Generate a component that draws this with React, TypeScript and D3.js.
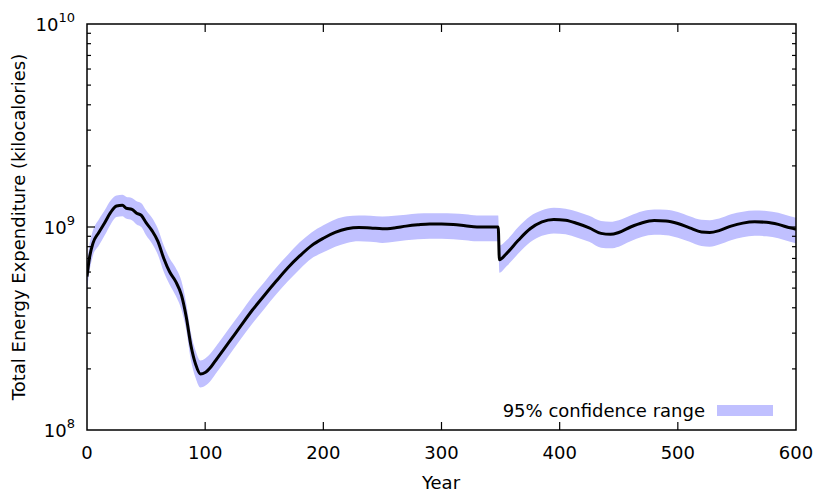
import React from 'react';
import * as d3 from 'd3';

/* data, values in 1e8 kcal */
const years = [0, 2, 5, 10, 15, 20, 25, 30, 33, 38, 42, 46, 50, 55, 60, 65, 70, 75, 80, 84, 88, 92, 96, 100,
  105, 110, 120, 130, 140, 150, 160, 170, 180, 190, 200, 210, 220, 230, 240, 250, 260, 270, 280, 290, 300,
  310, 320, 330, 340, 348, 349, 355, 365, 375, 385, 395, 405, 415, 425, 435, 443, 450, 460, 470, 480, 490,
  500, 510, 520, 527, 535, 545, 555, 565, 575, 585, 595, 600];
const mean = [5.7, 7.0, 8.3, 9.4, 10.5, 11.8, 12.7, 12.8, 12.4, 12.2, 11.7, 11.4, 10.5, 9.6, 8.5, 7.0, 6.0, 5.4, 4.6, 3.6, 2.6, 2.1, 1.89, 1.92,
  2.05, 2.25, 2.7, 3.25, 3.9, 4.6, 5.4, 6.3, 7.2, 8.1, 8.8, 9.4, 9.8, 9.95, 9.9, 9.8, 9.9, 10.1, 10.25, 10.35, 10.35,
  10.3, 10.15, 10.0, 10.0, 10.0, 6.9, 7.4, 8.6, 9.8, 10.6, 10.9, 10.8, 10.4, 9.9, 9.3, 9.2, 9.4, 10.0, 10.5, 10.75, 10.7,
  10.4, 9.9, 9.45, 9.4, 9.6, 10.1, 10.45, 10.6, 10.55, 10.3, 9.9, 9.75];
const upper = [6.6, 8.1, 9.6, 10.9, 12.1, 13.5, 14.3, 14.4, 14.1, 13.9, 13.4, 13.1, 12.1, 11.1, 9.8, 8.1, 7.0, 6.3, 5.4, 4.2, 3.0, 2.45, 2.2, 2.25,
  2.4, 2.62, 3.15, 3.78, 4.55, 5.35, 6.3, 7.3, 8.4, 9.4, 10.2, 10.9, 11.3, 11.4, 11.35, 11.25, 11.35, 11.5, 11.65, 11.7, 11.7,
  11.65, 11.55, 11.4, 11.4, 11.4, 8.1, 8.6, 10.0, 11.3, 12.1, 12.45, 12.3, 11.9, 11.35, 10.7, 10.6, 10.8, 11.4, 11.95, 12.2, 12.15,
  11.85, 11.3, 10.85, 10.8, 11.0, 11.55, 11.9, 12.05, 12.0, 11.75, 11.3, 11.1];
const lower = [4.9, 6.0, 7.2, 8.1, 9.1, 10.3, 11.2, 11.3, 11.0, 10.8, 10.3, 10.0, 9.1, 8.3, 7.3, 6.0, 5.2, 4.6, 3.9, 3.1, 2.2, 1.8, 1.62, 1.65,
  1.76, 1.93, 2.32, 2.8, 3.35, 3.95, 4.65, 5.4, 6.2, 7.0, 7.5, 8.0, 8.35, 8.5, 8.45, 8.35, 8.45, 8.6, 8.7, 8.75, 8.75,
  8.7, 8.6, 8.5, 8.5, 8.5, 5.95, 6.4, 7.4, 8.4, 9.05, 9.3, 9.2, 8.85, 8.45, 7.9, 7.85, 8.0, 8.5, 8.95, 9.15, 9.1,
  8.85, 8.45, 8.05, 8.0, 8.2, 8.6, 8.9, 9.05, 9.0, 8.8, 8.45, 8.3];
const xTicks = [0, 100, 200, 300, 400, 500, 600];
const yDecades = [8, 9, 10];

const W = 830, H = 498;
const M = { l: 87, r: 796, t: 24, b: 430 };
const FONT = 'DejaVu Sans, sans-serif';
const FS = 18;

export default function App() {
  const x = d3.scaleLinear().domain([0, 600]).range([M.l, M.r]);
  const y = d3.scaleLog().domain([1e8, 1e10]).range([M.b, M.t]);
  const rows = years.map((yr, i) => ({ yr, m: mean[i] * 1e8, lo: lower[i] * 1e8, hi: upper[i] * 1e8 }));

  const area = d3.area<any>().x(d => x(d.yr)).y0(d => y(d.lo)).y1(d => y(d.hi)).curve(d3.curveMonotoneX);
  const line = d3.line<any>().x(d => x(d.yr)).y(d => y(d.m)).curve(d3.curveMonotoneX);

  // minor ticks 2..9 in each decade
  const minor: number[] = [];
  for (const e of [8, 9]) for (let k = 2; k <= 9; k++) minor.push(k * Math.pow(10, e));

  return (
    <svg width={W} height={H} style={{ display: 'block', position: 'absolute', left: 0, top: 0 }}
      fontFamily={FONT}>
      <rect width={W} height={H} fill="#fff" />
      <defs>
        <clipPath id="plot"><rect x={M.l} y={M.t} width={M.r - M.l} height={M.b - M.t} /></clipPath>
      </defs>
      <g clipPath="url(#plot)">
        <path d={area(rows)!} fill="#c0c0ff" />
        <path d={line(rows)!} fill="none" stroke="#000" strokeWidth={3} strokeLinejoin="round" />
      </g>

      {/* ticks */}
      {xTicks.slice(1, -1).map(t => (
        <g key={'xt' + t} stroke="#000" strokeWidth={1.2}>
          <line x1={x(t)} x2={x(t)} y1={M.b} y2={M.b - 8} />
          <line x1={x(t)} x2={x(t)} y1={M.t} y2={M.t + 8} />
        </g>
      ))}
      {minor.map(v => (
        <g key={'mt' + v} stroke="#000" strokeWidth={1.2}>
          <line x1={M.l} x2={M.l + 4} y1={y(v)} y2={y(v)} />
          <line x1={M.r} x2={M.r - 4} y1={y(v)} y2={y(v)} />
        </g>
      ))}
      <g stroke="#000" strokeWidth={1.2}>
        <line x1={M.l} x2={M.l + 8} y1={y(1e9)} y2={y(1e9)} />
        <line x1={M.r} x2={M.r - 8} y1={y(1e9)} y2={y(1e9)} />
      </g>

      <rect x={M.l} y={M.t} width={M.r - M.l} height={M.b - M.t} fill="none" stroke="#000" strokeWidth={1.5} />

      {/* tick labels */}
      {xTicks.map(t => (
        <text key={'xl' + t} x={x(t)} y={459} fontSize={FS} textAnchor="middle">{t}</text>
      ))}
      {yDecades.map(e => (
        <text key={'yl' + e} x={75} y={y(Math.pow(10, e)) + 7} fontSize={FS} textAnchor="end">
          10<tspan fontSize={13} dy={-9}>{e}</tspan>
        </text>
      ))}

      {/* axis titles */}
      <text x={441} y={489} fontSize={FS} textAnchor="middle">Year</text>
      <text transform={`translate(25,${y(1e9)}) rotate(-90)`} fontSize={FS} textAnchor="middle">
        Total Energy Expenditure (kilocalories)
      </text>

      {/* legend */}
      <text x={705} y={417} fontSize={FS} textAnchor="end">95% confidence range</text>
      <rect x={717} y={405} width={56} height={11} fill="#c0c0ff" />
    </svg>
  );
}
